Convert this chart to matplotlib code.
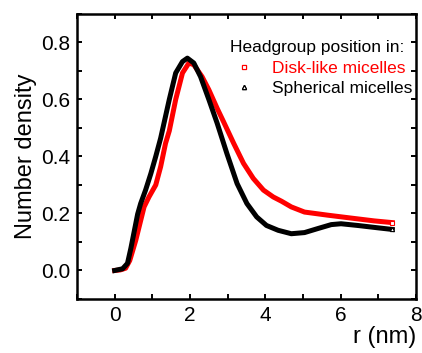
import numpy as np
import matplotlib.pyplot as plt
from matplotlib.ticker import MultipleLocator

plt.rcParams['font.family'] = ['Liberation Sans', 'DejaVu Sans']

# radial positions (nm) and number densities
r_disk = [0.0, 0.15, 0.29, 0.4, 0.56, 0.78, 0.91, 1.09, 1.22, 1.35, 1.45, 1.62, 1.8, 1.97,
          2.1, 2.32, 2.5, 2.72, 2.89, 3.16, 3.42, 3.68, 3.95, 4.21, 4.43, 4.69, 5.04, 5.66,
          6.27, 6.89, 7.37]
n_disk = [0.0, 0.002, 0.008, 0.035, 0.106, 0.223, 0.258, 0.30, 0.364, 0.446, 0.49, 0.6, 0.693,
          0.728, 0.722, 0.68, 0.634, 0.569, 0.522, 0.446, 0.376, 0.323, 0.282, 0.258, 0.243,
          0.223, 0.205, 0.194, 0.184, 0.174, 0.168]

r_sph = [0.0, 0.21, 0.34, 0.43, 0.52, 0.61, 0.69, 0.82, 0.96, 1.09, 1.22, 1.45, 1.62, 1.8,
         1.93, 2.1, 2.28, 2.5, 2.72, 2.98, 3.25, 3.51, 3.77, 4.03, 4.34, 4.69, 5.04, 5.39,
         5.75, 6.01, 6.45, 6.97, 7.37]
n_sph = [0.0, 0.006, 0.025, 0.078, 0.138, 0.198, 0.235, 0.282, 0.34, 0.40, 0.464, 0.6, 0.693,
         0.733, 0.745, 0.728, 0.68, 0.60, 0.517, 0.41, 0.305, 0.235, 0.188, 0.158, 0.141,
         0.129, 0.133, 0.147, 0.161, 0.164, 0.158, 0.150, 0.144]

fig = plt.figure(figsize=(4.22, 3.53), dpi=100)
ax = fig.add_axes([0.1825, 0.153, 0.8033, 0.8074])

ax.plot(r_disk, n_disk, color='red', lw=3.6, solid_joinstyle='round', marker='s', ms=3,
        mfc='white', mec='red', mew=0.8, markevery=[-1], label='Disk-like micelles')
ax.plot(r_sph, n_sph, color='black', lw=3.6, solid_joinstyle='round', marker='^', ms=3,
        mfc='white', mec='black', mew=0.8, markevery=[-1], label='Spherical micelles')

ax.set_xlim(-1, 8)
ax.set_ylim(-0.1, 0.9)
ax.xaxis.set_major_locator(MultipleLocator(2))
ax.xaxis.set_minor_locator(MultipleLocator(1))
ax.yaxis.set_major_locator(MultipleLocator(0.2))
ax.yaxis.set_minor_locator(MultipleLocator(0.1))
ax.tick_params(which='both', direction='in', top=True, right=True, width=1.4,
               length=3.6, labelsize=15)
ax.tick_params(axis='y', pad=5)
ax.tick_params(axis='x', pad=5)
for s in ax.spines.values():
    s.set_linewidth(1.8)

ax.set_ylabel('Number density', fontsize=17, labelpad=3)
ax.set_xlabel('r (nm)', fontsize=17, loc='right', labelpad=1)

ax.text(0.451, 0.884, 'Headgroup position in:', transform=ax.transAxes,
        fontsize=12.5, ha='left', va='center')
leg = ax.legend(frameon=False, fontsize=12.5, loc='upper right',
                bbox_to_anchor=(0.99, 0.835), borderaxespad=0, borderpad=0,
                handlelength=0, handletextpad=1.6, labelspacing=0.25,
                labelcolor=['red', 'black'])
for h in leg.legend_handles:
    h.set_linestyle('none')
    h.set_markevery(None)

fig.savefig('out.png', dpi=100)
